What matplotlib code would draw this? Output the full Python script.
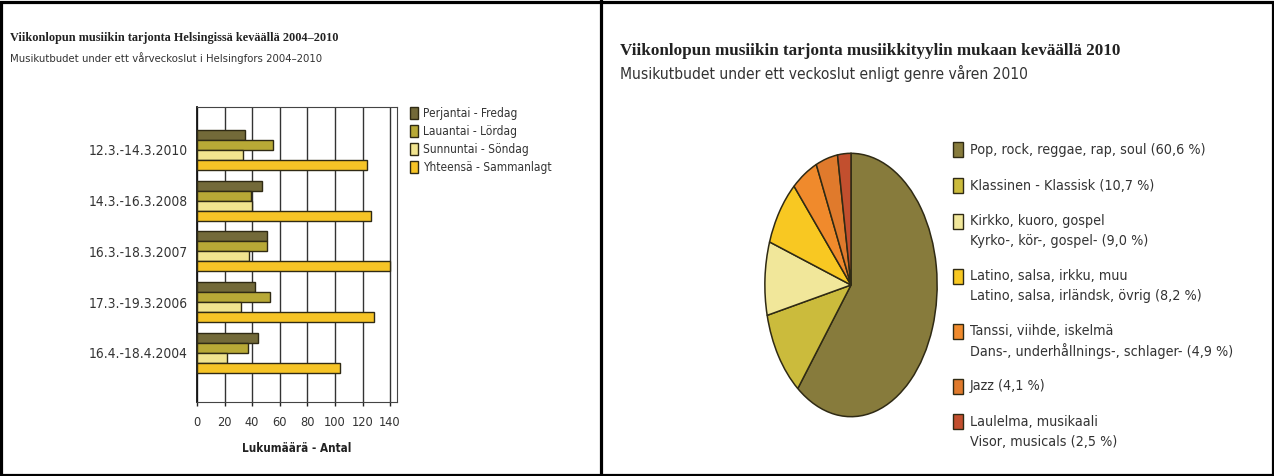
import matplotlib.pyplot as plt
import numpy as np
from matplotlib.lines import Line2D
from matplotlib.patches import Rectangle

W, H = 1274, 476

# left chart: weekend music offer in Helsinki
periods = ["12.3.-14.3.2010", "14.3.-16.3.2008", "16.3.-18.3.2007",
           "17.3.-19.3.2006", "16.4.-18.4.2004"]
friday = [35, 47, 51, 42, 44]
saturday = [55, 39, 51, 53, 37]
sunday = [33, 40, 38, 32, 22]
total = [123, 126, 140, 128, 104]
series_labels = ["Perjantai - Fredag", "Lauantai - Lördag",
                 "Sunnuntai - Söndag", "Yhteensä - Sammanlagt"]
series_colors = ["#736a39", "#b8a936", "#f1e48f", "#f6c426"]
x_ticks = [0, 20, 40, 60, 80, 100, 120, 140]

# right chart: by genre 2010
genres = [
    ["Pop, rock, reggae, rap, soul (60,6 %)"],
    ["Klassinen - Klassisk (10,7 %)"],
    ["Kirkko, kuoro, gospel", "Kyrko-, kör-, gospel- (9,0 %)"],
    ["Latino, salsa, irkku, muu", "Latino, salsa, irländsk, övrig (8,2 %)"],
    ["Tanssi, viihde, iskelmä", "Dans-, underhållnings-, schlager- (4,9 %)"],
    ["Jazz (4,1 %)"],
    ["Laulelma, musikaali", "Visor, musicals (2,5 %)"],
]
shares = [60.6, 10.7, 9.0, 8.2, 4.9, 4.1, 2.5]
genre_colors = ["#877b3c", "#cbbb3c", "#f1e79a", "#f8c822",
                "#f08a2c", "#e07a2c", "#c24f2e"]

EDGE = "#2f2a14"
SANS = dict(family="DejaVu Sans", stretch="condensed")
SERIF = "Liberation Serif"


def fx(px):
    return px / W


def fy(py):
    return 1 - py / H


fig = plt.figure(figsize=(W / 100, H / 100), dpi=100)

# ---- bar chart ----
ax = fig.add_axes([fx(197), fy(402), 200 / W, 295 / H])
pos = np.arange(len(periods))[::-1]
h = 0.197
for k, (vals, col, lab) in enumerate(zip([friday, saturday, sunday, total],
                                         series_colors, series_labels)):
    ax.barh(pos + (1.5 - k) * h, vals, height=h, color=col,
            edgecolor=EDGE, linewidth=1, label=lab, zorder=3)
ax.set_xlim(0, 145)
ax.set_ylim(-0.966, 4.847)
ax.set_xticks(x_ticks)
ax.set_xticklabels([str(t) for t in x_ticks], fontsize=9.2, color="#333333", **SANS)
ax.set_yticks(pos)
ax.set_yticklabels(periods, fontsize=9.9, color="#333333", **SANS)
ax.tick_params(axis="y", length=0, pad=6.5)
ax.tick_params(axis="x", length=3, width=1, color="#222222", pad=7)
ax.grid(axis="x", color="#333333", linewidth=1, zorder=0)
ax.set_axisbelow(True)
for side in ["top", "right", "bottom"]:
    ax.spines[side].set_color("#444444")
ax.spines["left"].set_color("#111111")
ax.spines["left"].set_linewidth(1.3)

fig.text(fx(297), fy(448), "Lukumäärä - Antal", ha="center", va="center",
         fontsize=8.4, fontweight="bold", color="#222222", **SANS)

# bar legend
for k, (col, lab) in enumerate(zip(series_colors, series_labels)):
    yc = 113 + k * 18
    fig.add_artist(Rectangle((fx(410), fy(yc + 6)), 8 / W, 12 / H,
                             facecolor=col, edgecolor=EDGE, linewidth=1,
                             transform=fig.transFigure))
    fig.text(fx(423), fy(yc), lab, ha="left", va="center", fontsize=8.6,
             color="#333333", **SANS)

fig.text(fx(10), fy(38), "Viikonlopun musiikin tarjonta Helsingissä keväällä 2004–2010",
         ha="left", va="center", fontsize=8.85, fontweight="bold", family=SERIF,
         color="#222222")
fig.text(fx(10), fy(58), "Musikutbudet under ett vårveckoslut i Helsingfors 2004–2010",
         ha="left", va="center", fontsize=8.1, color="#333333", **SANS)

# ---- pie chart ----
pax = fig.add_axes([fx(764), fy(418), 174 / W, 266 / H])
pax.pie(shares, colors=genre_colors, startangle=90, counterclock=False,
        wedgeprops=dict(edgecolor=EDGE, linewidth=1.1))
pax.set_aspect("auto")
pax.set_xlim(-1.01, 1.01)
pax.set_ylim(-1.01, 1.01)
pax.axis("off")

y = 150
for lines, col in zip(genres, genre_colors):
    fig.add_artist(Rectangle((fx(953), fy(y + 7.5)), 10 / W, 15 / H,
                             facecolor=col, edgecolor=EDGE, linewidth=1,
                             transform=fig.transFigure))
    for i, line in enumerate(lines):
        fig.text(fx(970), fy(y + i * 20), line, ha="left", va="center",
                 fontsize=10.3, color="#333333", **SANS)
    y += 19.5 * len(lines) + 16

fig.text(fx(620), fy(51), "Viikonlopun musiikin tarjonta musiikkityylin mukaan keväällä 2010",
         ha="left", va="center", fontsize=12.3, fontweight="bold", family=SERIF,
         color="#222222")
fig.text(fx(620), fy(73), "Musikutbudet under ett veckoslut enligt genre våren 2010",
         ha="left", va="center", fontsize=11.2, color="#333333", **SANS)

# ---- frames ----
fig.add_artist(Rectangle((fx(1.5), fy(474.5)), 1271 / W, 473 / H, fill=False,
                         edgecolor="black", linewidth=2.3,
                         transform=fig.transFigure))
fig.add_artist(Line2D([fx(601), fx(601)], [0, 1], color="black",
                      linewidth=2.3, transform=fig.transFigure))

fig.savefig("out.png", dpi=100)
